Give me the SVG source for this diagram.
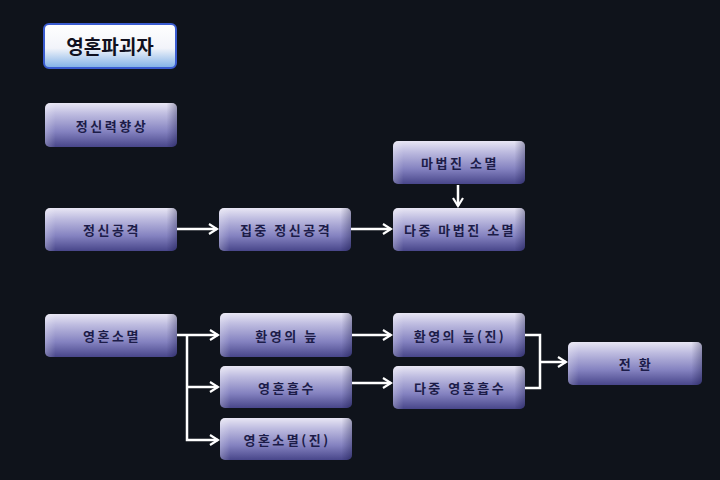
<svg xmlns="http://www.w3.org/2000/svg" width="720" height="480" viewBox="0 0 720 480">
<defs>
<linearGradient id="g" x1="0" y1="0" x2="0" y2="1">
<stop offset="0" stop-color="#e8e6f4"/>
<stop offset="0.25" stop-color="#bebce0"/>
<stop offset="0.65" stop-color="#8482c0"/>
<stop offset="1" stop-color="#48468a"/>
</linearGradient>
<linearGradient id="gs" x1="0" y1="0" x2="1" y2="0">
<stop offset="0" stop-color="#ffffff" stop-opacity="0.25"/>
<stop offset="0.08" stop-color="#ffffff" stop-opacity="0"/>
<stop offset="0.92" stop-color="#000030" stop-opacity="0"/>
<stop offset="1" stop-color="#000030" stop-opacity="0.3"/>
</linearGradient>
<linearGradient id="gt" x1="0" y1="0" x2="0" y2="1">
<stop offset="0" stop-color="#ffffff"/>
<stop offset="0.55" stop-color="#f2f4fa"/>
<stop offset="1" stop-color="#7fb0e6"/>
</linearGradient>
<marker id="ah" viewBox="0 0 12 12" refX="10" refY="6" markerWidth="12" markerHeight="12" markerUnits="userSpaceOnUse" orient="auto">
<path d="M2,1 L10,6 L2,11" fill="none" stroke="#ffffff" stroke-width="2.2"/>
</marker>
</defs>
<style>
.b{fill:url(#g);}
.s{fill:url(#gs);}
.t{font-family:"Noto Sans CJK KR","Noto Sans",sans-serif;font-size:13px;font-weight:bold;letter-spacing:2.5px;fill:#1c1c48;text-anchor:middle;dominant-baseline:central;}
.c{fill:none;stroke:#ffffff;stroke-width:2.5;}
</style>
<rect width="720" height="480" fill="#0f131b"/>
<g id="title">
<rect x="44" y="24" width="132" height="44" rx="5" fill="url(#gt)" stroke="#3a5cd0" stroke-width="2"/>
<text x="110" y="45" style="font-family:'Noto Sans CJK KR','Noto Sans',sans-serif;font-size:19px;font-weight:bold;fill:#101020;text-anchor:middle;dominant-baseline:central;">영혼파괴자</text>
</g>
<g id="n1"><rect class="b" x="45" y="103" width="132" height="44" rx="5"/><rect class="s" x="45" y="103" width="132" height="44" rx="5"/><text class="t" x="112" y="125">정신력향상</text></g>
<g id="n2"><rect class="b" x="45" y="208" width="132" height="43" rx="5"/><rect class="s" x="45" y="208" width="132" height="43" rx="5"/><text class="t" x="112" y="229">정신공격</text></g>
<g id="n3"><rect class="b" x="219" y="208" width="132" height="43" rx="5"/><rect class="s" x="219" y="208" width="132" height="43" rx="5"/><text class="t" x="286" y="229">집중 정신공격</text></g>
<g id="n4"><rect class="b" x="393" y="141" width="132" height="43" rx="5"/><rect class="s" x="393" y="141" width="132" height="43" rx="5"/><text class="t" x="460" y="162">마법진 소멸</text></g>
<g id="n5"><rect class="b" x="393" y="208" width="132" height="43" rx="5"/><rect class="s" x="393" y="208" width="132" height="43" rx="5"/><text class="t" x="460" y="229">다중 마법진 소멸</text></g>
<g id="n6"><rect class="b" x="45" y="314" width="132" height="43" rx="5"/><rect class="s" x="45" y="314" width="132" height="43" rx="5"/><text class="t" x="112" y="335">영혼소멸</text></g>
<g id="n7"><rect class="b" x="220" y="313" width="132" height="44" rx="5"/><rect class="s" x="220" y="313" width="132" height="44" rx="5"/><text class="t" x="287" y="335">환영의 늪</text></g>
<g id="n8"><rect class="b" x="220" y="366" width="132" height="42" rx="5"/><rect class="s" x="220" y="366" width="132" height="42" rx="5"/><text class="t" x="287" y="387">영혼흡수</text></g>
<g id="n9"><rect class="b" x="220" y="418" width="132" height="42" rx="5"/><rect class="s" x="220" y="418" width="132" height="42" rx="5"/><text class="t" x="287" y="439">영혼소멸(진)</text></g>
<g id="n10"><rect class="b" x="393" y="313" width="132" height="44" rx="5"/><rect class="s" x="393" y="313" width="132" height="44" rx="5"/><text class="t" x="460" y="335">환영의 늪(진)</text></g>
<g id="n11"><rect class="b" x="393" y="366" width="132" height="43" rx="5"/><rect class="s" x="393" y="366" width="132" height="43" rx="5"/><text class="t" x="460" y="387">다중 영혼흡수</text></g>
<g id="n12"><rect class="b" x="568" y="342" width="134" height="43" rx="5"/><rect class="s" x="568" y="342" width="134" height="43" rx="5"/><text class="t" x="636" y="363">전 환</text></g>
<g id="connectors">
<path class="c" d="M177,229 H217" marker-end="url(#ah)"/>
<path class="c" d="M351,229 H391" marker-end="url(#ah)"/>
<path class="c" d="M458,185 V206" marker-end="url(#ah)"/>
<path class="c" d="M177,335 H218" marker-end="url(#ah)"/>
<path class="c" d="M187,335 V440 H218" marker-end="url(#ah)"/>
<path class="c" d="M187,387 H218" marker-end="url(#ah)"/>
<path class="c" d="M352,335 H391" marker-end="url(#ah)"/>
<path class="c" d="M352,383 H391" marker-end="url(#ah)"/>
<path class="c" d="M525,335 H540 V388 H525"/>
<path class="c" d="M540,362 H566" marker-end="url(#ah)"/>
</g>
</svg>
